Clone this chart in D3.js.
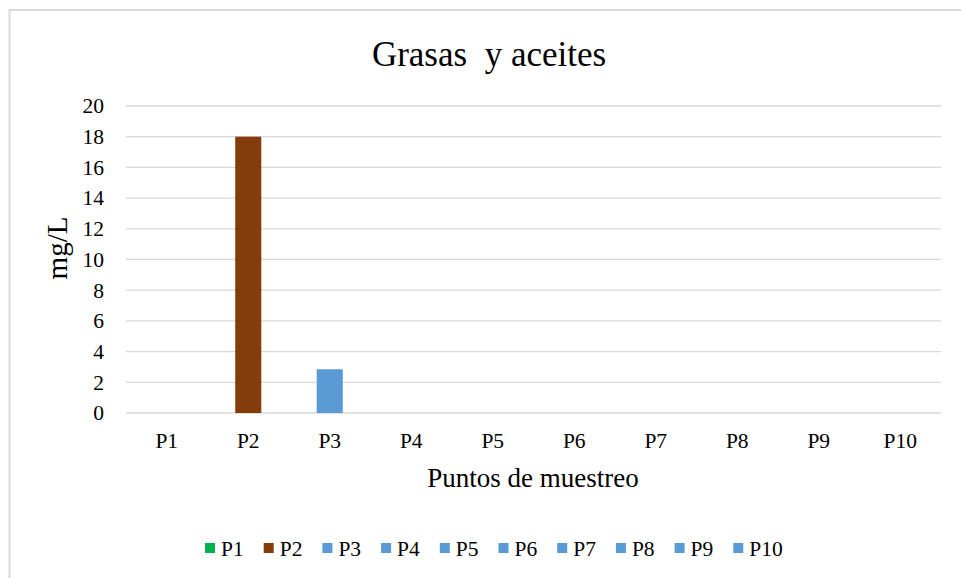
<!DOCTYPE html>
<html>
<head>
<meta charset="utf-8">
<title>Grasas y aceites</title>
<script src="https://cdn.jsdelivr.net/npm/d3@7"></script>
<style>
  body { margin: 0; background: #fff; }
  .grid line { stroke: #d9d9d9; stroke-width: 1.3; }
</style>
</head>
<body>
<svg width="961" height="578"></svg>
<script>
// data
var puntos = ["P1", "P2", "P3", "P4", "P5", "P6", "P7", "P8", "P9", "P10"];
var valores = [0, 18, 2.85, 0, 0, 0, 0, 0, 0, 0];
var colores = ["#00b050", "#843c0c", "#5b9bd5", "#5b9bd5", "#5b9bd5", "#5b9bd5", "#5b9bd5", "#5b9bd5", "#5b9bd5", "#5b9bd5"];
var yTicks = [0, 2, 4, 6, 8, 10, 12, 14, 16, 18, 20];

var serif = "'Liberation Serif', 'Times New Roman', serif";
var svg = d3.select("svg");

// chart frame
svg.append("rect")
    .attr("x", 9.5).attr("y", 10)
    .attr("width", 980).attr("height", 600)
    .attr("fill", "#fff")
    .attr("stroke", "#d9d9d9")
    .attr("stroke-width", 2);

var plotLeft = 126, plotRight = 941, plotTop = 106, plotBottom = 413;

var x = d3.scaleBand()
    .domain(puntos)
    .range([plotLeft, plotRight])
    .paddingInner(0.68)
    .paddingOuter(0.34);

var y = d3.scaleLinear()
    .domain([0, 20])
    .range([plotBottom, plotTop]);

// gridlines
svg.append("g").attr("class", "grid")
  .selectAll("line")
  .data(yTicks)
  .enter().append("line")
    .attr("x1", plotLeft).attr("x2", plotRight)
    .attr("y1", function(d) { return y(d); })
    .attr("y2", function(d) { return y(d); });

// y axis labels
var yAxis = d3.axisLeft(y).tickValues(yTicks).tickSize(0).tickPadding(22);
var gy = svg.append("g").attr("transform", "translate(" + plotLeft + ",0)").call(yAxis);
gy.select(".domain").remove();
gy.attr("font-family", serif).attr("font-size", 21.5);
gy.selectAll("text").attr("fill", "#000");

// bars
svg.selectAll(".bar")
  .data(valores)
  .enter().append("rect")
    .attr("class", "bar")
    .attr("x", function(d, i) { return x(puntos[i]); })
    .attr("width", x.bandwidth())
    .attr("y", function(d) { return y(d); })
    .attr("height", function(d) { return y(0) - y(d); })
    .attr("fill", function(d, i) { return colores[i]; });

// x axis labels
var xAxis = d3.axisBottom(x).tickSize(0).tickPadding(20);
var gx = svg.append("g").attr("transform", "translate(0," + plotBottom + ")").call(xAxis);
gx.select(".domain").remove();
gx.attr("font-family", serif).attr("font-size", 21.5);
gx.selectAll("text").attr("fill", "#000");

// title
svg.append("text")
    .attr("x", 489).attr("y", 66)
    .attr("text-anchor", "middle")
    .attr("xml:space", "preserve")
    .attr("font-family", serif)
    .attr("font-size", 35)
    .text("Grasas  y aceites");

// axis titles
svg.append("text")
    .attr("x", 533).attr("y", 487)
    .attr("text-anchor", "middle")
    .attr("font-family", serif)
    .attr("font-size", 27)
    .text("Puntos de muestreo");

svg.append("text")
    .attr("transform", "translate(67,248) rotate(-90)")
    .attr("text-anchor", "middle")
    .attr("font-family", serif)
    .attr("font-size", 29)
    .text("mg/L");

// legend
var legend = svg.selectAll(".legend")
  .data(puntos)
  .enter().append("g")
    .attr("class", "legend")
    .attr("transform", function(d, i) { return "translate(" + (205 + i * 58.7) + ",548.5)"; });

legend.append("rect")
    .attr("x", 0).attr("y", -5.5)
    .attr("width", 10).attr("height", 10)
    .attr("fill", function(d, i) { return colores[i]; });

legend.append("text")
    .attr("x", 16).attr("y", 7.5)
    .attr("font-family", serif)
    .attr("font-size", 21.5)
    .text(function(d) { return d; });
</script>
</body>
</html>
